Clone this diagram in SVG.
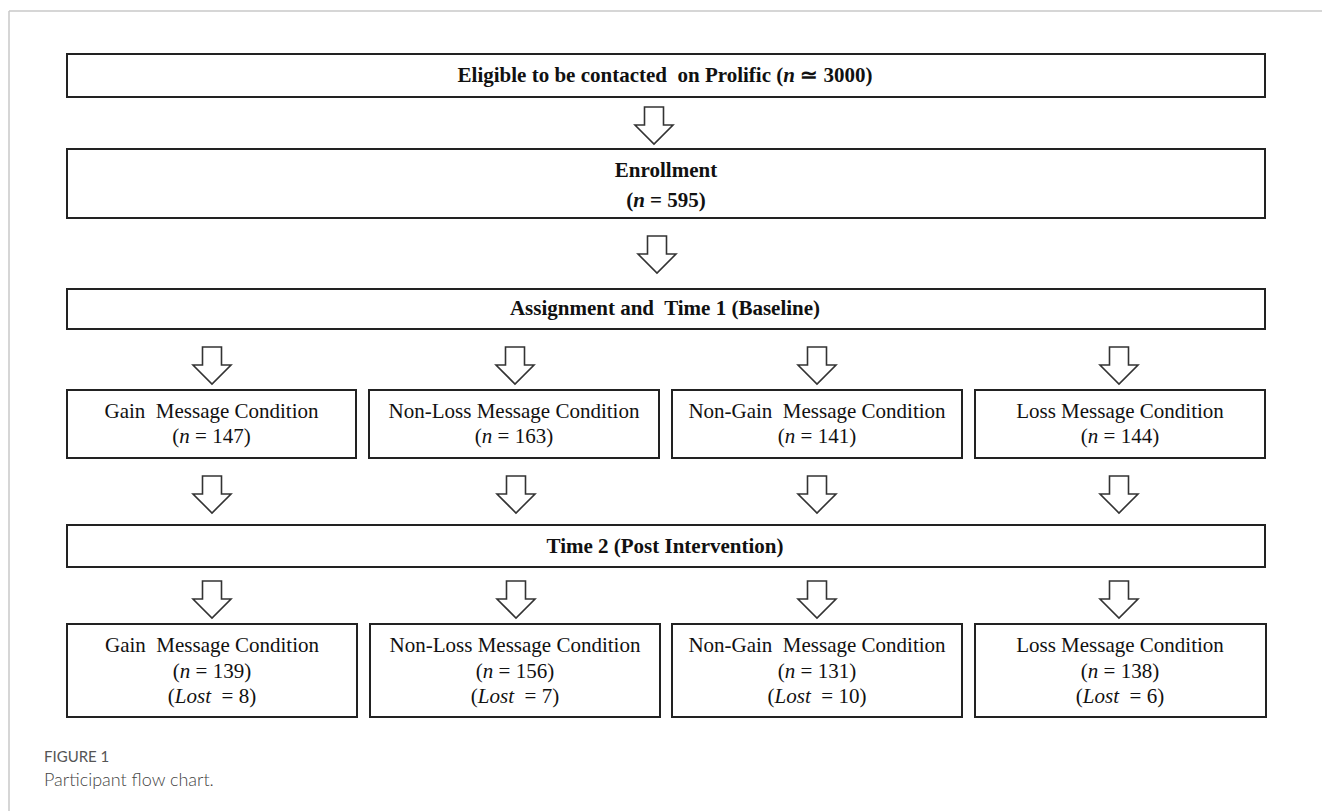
<svg xmlns="http://www.w3.org/2000/svg" width="1322" height="811" viewBox="0 0 1322 811">
<style>
.box{fill:#fff;stroke:#222;stroke-width:2}
.arr{fill:#fff;stroke:#333;stroke-width:1.6;stroke-linejoin:miter}
.tb{font-family:"Liberation Serif","Times New Roman",serif;font-weight:bold;font-size:21px;fill:#111;text-anchor:middle;white-space:pre}
.tr{font-family:"Liberation Serif","Times New Roman",serif;font-size:21px;fill:#111;text-anchor:middle;white-space:pre}
.it{font-style:italic}
.cap1{font-family:Lato,"Open Sans",sans-serif;font-size:15px;fill:#555}
.cap2{font-family:Lato,"Open Sans",sans-serif;font-size:18px;font-weight:300;fill:#444}
</style>
<defs>
<path id="arrow" class="arr" d="M-9.5,0 H9.5 V18 H19 L0,37 L-19,18 H-9.5 Z"/>
</defs>
<rect width="1322" height="811" fill="#fff"/>
<g id="frame" stroke="#c8c8c8" stroke-width="1.5" fill="none">
<line x1="9" y1="11" x2="1322" y2="11"/>
<line x1="9" y1="11" x2="9" y2="811"/>
</g>
<g id="connectors">
<use href="#arrow" x="654" y="107"/>
<use href="#arrow" x="657" y="236"/>
<use href="#arrow" x="212" y="347"/>
<use href="#arrow" x="515" y="347"/>
<use href="#arrow" x="817" y="347"/>
<use href="#arrow" x="1119" y="347"/>
<use href="#arrow" x="212" y="476"/>
<use href="#arrow" x="516" y="476"/>
<use href="#arrow" x="817" y="476"/>
<use href="#arrow" x="1119" y="476"/>
<use href="#arrow" x="212" y="581"/>
<use href="#arrow" x="516" y="581"/>
<use href="#arrow" x="817" y="581"/>
<use href="#arrow" x="1119" y="581"/>
</g>
<g id="eligible">
<rect class="box" x="67" y="54" width="1198" height="43"/>
<text class="tb" x="665" y="82" xml:space="preserve">Eligible to be contacted  on Prolific (<tspan class="it">n</tspan> ≃ 3000)</text>
</g>
<g id="enrollment">
<rect class="box" x="67" y="149" width="1198" height="69"/>
<text class="tb" x="666" y="177">Enrollment</text>
<text class="tb" x="666" y="207">(<tspan class="it">n</tspan> = 595)</text>
</g>
<g id="assignment">
<rect class="box" x="67" y="289" width="1198" height="40"/>
<text class="tb" x="665" y="315" xml:space="preserve">Assignment and  Time 1 (Baseline)</text>
</g>
<g id="gain1">
<rect class="box" x="67" y="390" width="289" height="68"/>
<text class="tr" x="211.5" y="418" xml:space="preserve">Gain  Message Condition</text>
<text class="tr" x="211.5" y="443">(<tspan class="it">n</tspan> = 147)</text>
</g>
<g id="nonloss1">
<rect class="box" x="369" y="390" width="290" height="68"/>
<text class="tr" x="514" y="418">Non-Loss Message Condition</text>
<text class="tr" x="514" y="443">(<tspan class="it">n</tspan> = 163)</text>
</g>
<g id="nongain1">
<rect class="box" x="672" y="390" width="290" height="68"/>
<text class="tr" x="817" y="418" xml:space="preserve">Non-Gain  Message Condition</text>
<text class="tr" x="817" y="443">(<tspan class="it">n</tspan> = 141)</text>
</g>
<g id="loss1">
<rect class="box" x="975" y="390" width="290" height="68"/>
<text class="tr" x="1120" y="418">Loss Message Condition</text>
<text class="tr" x="1120" y="443">(<tspan class="it">n</tspan> = 144)</text>
</g>
<g id="time2">
<rect class="box" x="67" y="525" width="1198" height="42"/>
<text class="tb" x="665" y="553">Time 2 (Post Intervention)</text>
</g>
<g id="gain2">
<rect class="box" x="67" y="624" width="290" height="93"/>
<text class="tr" x="212" y="652" xml:space="preserve">Gain  Message Condition</text>
<text class="tr" x="212" y="678">(<tspan class="it">n</tspan> = 139)</text>
<text class="tr" x="212" y="703" xml:space="preserve">(<tspan class="it">Lost</tspan>  = 8)</text>
</g>
<g id="nonloss2">
<rect class="box" x="370" y="624" width="290" height="93"/>
<text class="tr" x="515" y="652">Non-Loss Message Condition</text>
<text class="tr" x="515" y="678">(<tspan class="it">n</tspan> = 156)</text>
<text class="tr" x="515" y="703" xml:space="preserve">(<tspan class="it">Lost</tspan>  = 7)</text>
</g>
<g id="nongain2">
<rect class="box" x="672" y="624" width="290" height="93"/>
<text class="tr" x="817" y="652" xml:space="preserve">Non-Gain  Message Condition</text>
<text class="tr" x="817" y="678">(<tspan class="it">n</tspan> = 131)</text>
<text class="tr" x="817" y="703" xml:space="preserve">(<tspan class="it">Lost</tspan>  = 10)</text>
</g>
<g id="loss2">
<rect class="box" x="975" y="624" width="291" height="93"/>
<text class="tr" x="1120" y="652">Loss Message Condition</text>
<text class="tr" x="1120" y="678">(<tspan class="it">n</tspan> = 138)</text>
<text class="tr" x="1120" y="703" xml:space="preserve">(<tspan class="it">Lost</tspan>  = 6)</text>
</g>
<g id="caption">
<text class="cap1" x="44" y="762">FIGURE 1</text>
<text class="cap2" x="44" y="786">Participant flow chart.</text>
</g>
</svg>
